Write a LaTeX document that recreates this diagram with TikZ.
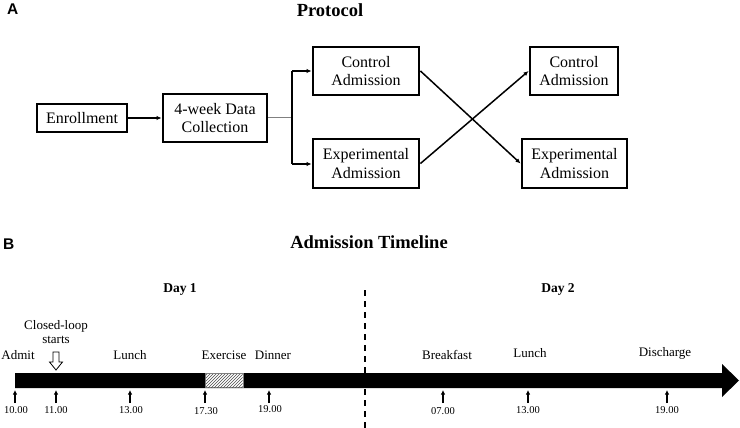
\documentclass[tikz,border=0pt]{standalone}
\usepackage{fontspec}
\setmainfont{Liberation Serif}
\newfontfamily\arialf{Liberation Sans}
\usetikzlibrary{arrows.meta,patterns}
\tikzset{
  box/.style={draw,line width=2.9pt,align=center,inner sep=0pt,font=\fontsize{16}{18.5}\selectfont},
  conn/.style={line width=1.5pt,-{Latex[length=5pt,width=4.5pt]}},
  tick/.style={line width=1.5pt,-{Latex[length=4.5pt,width=4.5pt]}},
  evt/.style={font=\fontsize{13}{14.5}\selectfont,inner sep=0pt},
  tlab/.style={font=\fontsize{10.5}{12}\selectfont,inner sep=0pt},
  ttl/.style={font=\bfseries\fontsize{18.5}{20}\selectfont,inner sep=0pt},
  dayl/.style={font=\bfseries\fontsize{13.5}{15}\selectfont,inner sep=0pt},
  panel/.style={font=\arialf\bfseries\fontsize{15.5}{16}\selectfont,inner sep=0pt,anchor=north west}
}
\begin{document}
\begin{tikzpicture}[x=1pt,y=-1pt]
\useasboundingbox (0,0) rectangle (740,428);
% Panel A
\node[panel] (pa) at (7,4) {A};
\node[ttl] (protocol) at (330,10) {Protocol};
\node[box,minimum width=90pt,minimum height=28pt] (enr) at (82,118) {Enrollment};
\node[box,minimum width=104pt,minimum height=48pt] (data) at (215,118) {4-week Data\\Collection};
\node[box,minimum width=106pt,minimum height=48pt] (cl) at (366,71) {Control\\Admission};
\node[box,minimum width=106pt,minimum height=49pt] (el) at (366,163.5) {Experimental\\Admission};
\node[box,minimum width=88pt,minimum height=48pt] (cr) at (574,71) {Control\\Admission};
\node[box,minimum width=105pt,minimum height=49pt] (er) at (574.5,163.5) {Experimental\\Admission};
\coordinate (split) at (292,118);
\coordinate (st) at (292,71);
\coordinate (sb) at (292,164);
\draw[conn] (enr) -- (data);
\draw[gray,line width=1pt] (data) -- (split);
\draw[line width=1.5pt] (st) -- (sb);
\draw[conn] (st) -- (cl.west);
\draw[conn] (sb) -- (el.west |- sb);
\draw[conn] (cl.east) -- (er.west);
\draw[conn] (el.east) -- (cr.west);
% Panel B
\node[panel] (pb) at (3,239) {B};
\node[ttl] (atl) at (369,242) {Admission Timeline};
\node[dayl] (d1) at (180,289) {Day 1};
\node[dayl] (d2) at (558,289) {Day 2};
\draw[dash pattern=on 6pt off 5pt,line width=1.8pt] (365,290) -- (365,428);
\fill (15,373) -- (722,373) -- (722,364) -- (739,380.5) -- (722,397) -- (722,388) -- (15,388) -- cycle;
\filldraw[fill=white,draw=gray,line width=0.6pt] (205,373.5) rectangle (243,387.5);
\fill[pattern=north east lines,pattern color=black!70] (205.5,374) rectangle (242.5,387);
% hollow arrow
\draw[line width=0.8pt,fill=white] (53,352) -- (59,352) -- (59,362) -- (62.5,362) -- (56,370) -- (49.5,362) -- (53,362) -- cycle;
\node[evt,align=center] (cls) at (56,332) {Closed-loop\\starts};
% events
\node[evt] (e1) at (18,355) {Admit};
\node[evt] (e2) at (130,355) {Lunch};
\node[evt] (e3) at (224,355) {Exercise};
\node[evt] (e4) at (273,355.5) {Dinner};
\node[evt] (e5) at (447,354.5) {Breakfast};
\node[evt] (e6) at (530,353.5) {Lunch};
\node[evt] (e7) at (665,353.5) {Discharge};
% ticks
\foreach \x/\n in {15/a,56/b,130/c,205/d,269/e,443/f,528/g,667/h}{
  \coordinate (tb\n) at (\x,403);
  \coordinate (tt\n) at (\x,390);
  \draw[tick] (tb\n) -- (tt\n);
}
\node[tlab] (l1) at (16,410.5) {10.00};
\node[tlab] (l2) at (56,410.5) {11.00};
\node[tlab] (l3) at (131,410.5) {13.00};
\node[tlab] (l4) at (206,411) {17.30};
\node[tlab] (l5) at (270,409.5) {19.00};
\node[tlab] (l6) at (443,411) {07.00};
\node[tlab] (l7) at (528,410.5) {13.00};
\node[tlab] (l8) at (667,410) {19.00};
\end{tikzpicture}
\end{document}
